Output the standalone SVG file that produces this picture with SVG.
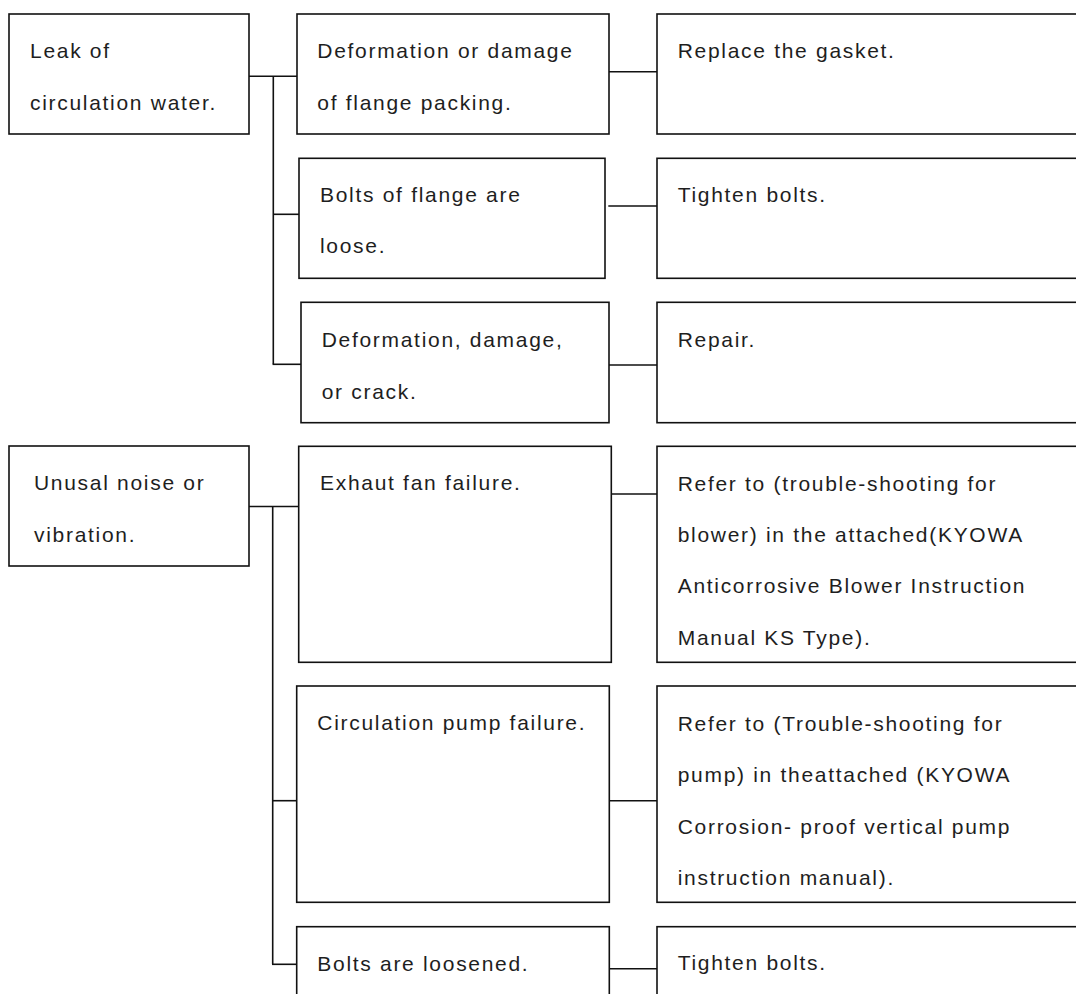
<svg xmlns="http://www.w3.org/2000/svg" width="1076" height="994" viewBox="0 0 1076 994">
<style>
rect.box{fill:#fff;stroke:#111;stroke-width:1.6}
.conn line{stroke:#111;stroke-width:1.6}
text{font-family:"Liberation Sans",Arial,sans-serif;font-size:21px;letter-spacing:1.7px;fill:#1e1e1e}
</style>
<rect width="1076" height="994" fill="#fff"/>
<g class="conn" id="connectors">
<line x1="249" y1="76.3" x2="297" y2="76.3"/>
<line x1="273.3" y1="76.3" x2="273.3" y2="364.3"/>
<line x1="273.3" y1="214.3" x2="299" y2="214.3"/>
<line x1="272.6" y1="364.3" x2="301" y2="364.3"/>
<line x1="609" y1="71.7" x2="657" y2="71.7"/>
<line x1="608.3" y1="206" x2="657" y2="206"/>
<line x1="609" y1="365" x2="657" y2="365"/>
<line x1="249" y1="506.5" x2="299" y2="506.5"/>
<line x1="272.7" y1="506.5" x2="272.7" y2="964.3"/>
<line x1="272.7" y1="800.7" x2="297" y2="800.7"/>
<line x1="272" y1="964.3" x2="297" y2="964.3"/>
<line x1="608.3" y1="494" x2="657" y2="494"/>
<line x1="609" y1="800.7" x2="657" y2="800.7"/>
<line x1="609" y1="968.7" x2="657" y2="968.7"/>
</g>
<g id="leak">
<rect class="box" x="9" y="14" width="240" height="120"/>
<text x="30" y="58.3">Leak of</text>
<text x="30" y="110">circulation water.</text>
</g>
<g id="flange-packing">
<rect class="box" x="297" y="14" width="312" height="120"/>
<text x="317.3" y="58.3">Deformation or damage</text>
<text x="317.3" y="110">of flange packing.</text>
</g>
<g id="replace-gasket">
<rect class="box" x="657" y="14" width="440" height="120"/>
<text x="677.7" y="58.3">Replace the gasket.</text>
</g>
<g id="bolts-flange">
<rect class="box" x="299" y="158.3" width="306" height="120"/>
<text x="320" y="201.7">Bolts of flange are</text>
<text x="320" y="253.3">loose.</text>
</g>
<g id="tighten-1">
<rect class="box" x="657" y="158.3" width="440" height="120"/>
<text x="677.7" y="201.7">Tighten bolts.</text>
</g>
<g id="deform-crack">
<rect class="box" x="301" y="302.3" width="308" height="120.4"/>
<text x="321.7" y="346.5">Deformation, damage,</text>
<text x="321.7" y="398.5">or crack.</text>
</g>
<g id="repair">
<rect class="box" x="657" y="302.3" width="440" height="120.4"/>
<text x="677.7" y="346.5">Repair.</text>
</g>
<g id="noise">
<rect class="box" x="9" y="446" width="240" height="120"/>
<text x="34" y="490">Unusal noise or</text>
<text x="34" y="542">vibration.</text>
</g>
<g id="exhaust-fan">
<rect class="box" x="298.7" y="446.3" width="312.6" height="216"/>
<text x="320" y="490">Exhaut fan failure.</text>
</g>
<g id="blower-ref">
<rect class="box" x="657" y="446.3" width="440" height="216"/>
<text x="677.7" y="490.7">Refer to (trouble-shooting for</text>
<text x="677.7" y="541.7">blower) in the attached(KYOWA</text>
<text x="677.7" y="593.3">Anticorrosive Blower Instruction</text>
<text x="677.7" y="645">Manual KS Type).</text>
</g>
<g id="pump-failure">
<rect class="box" x="296.7" y="686" width="312.6" height="216.3"/>
<text x="317.3" y="730">Circulation pump failure.</text>
</g>
<g id="pump-ref">
<rect class="box" x="657" y="686" width="440" height="216.3"/>
<text x="677.7" y="730.7">Refer to (Trouble-shooting for</text>
<text x="677.7" y="781.7">pump) in theattached (KYOWA</text>
<text x="677.7" y="834">Corrosion- proof vertical pump</text>
<text x="677.7" y="885">instruction manual).</text>
</g>
<g id="bolts-loosened">
<rect class="box" x="296.7" y="926.7" width="312.6" height="120"/>
<text x="317.3" y="970.7">Bolts are loosened.</text>
</g>
<g id="tighten-2">
<rect class="box" x="657" y="926.7" width="440" height="120"/>
<text x="677.7" y="970">Tighten bolts.</text>
</g>
</svg>
